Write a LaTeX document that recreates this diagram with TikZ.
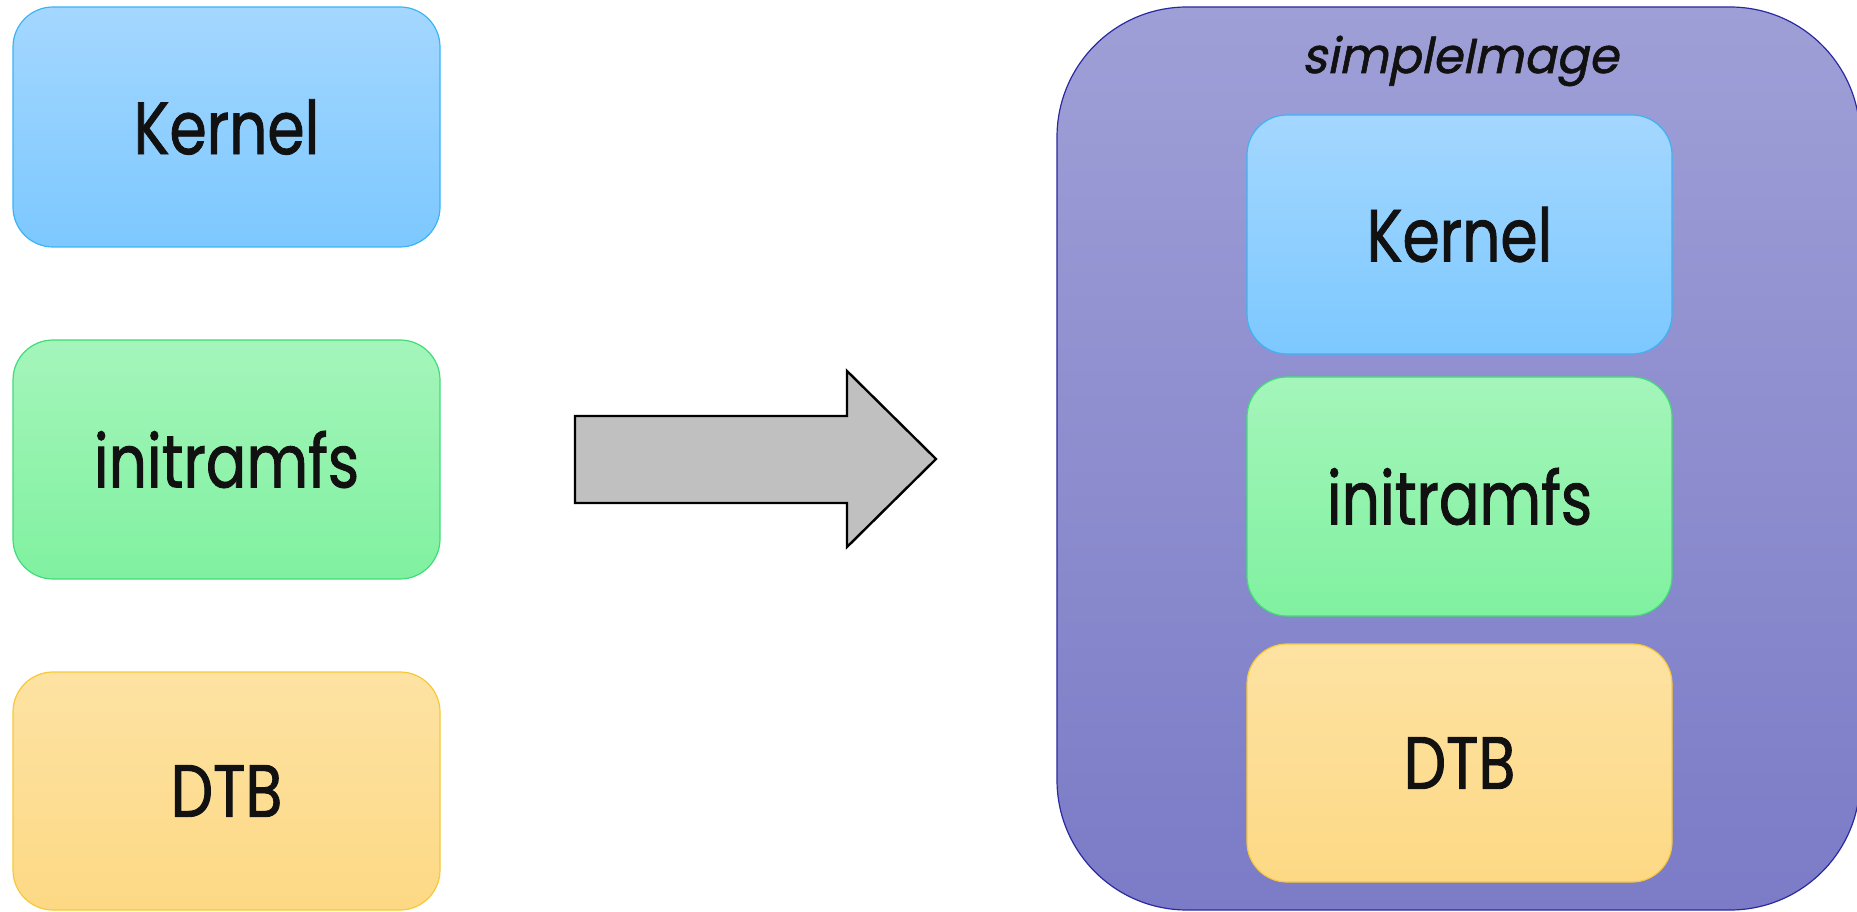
\documentclass[tikz,border=0pt]{standalone}
\usepackage{fontspec}
\setmainfont[FakeStretch=0.81,FakeBold=1.2]{Poppins}
\newfontfamily\slantfont[FakeSlant=0.2,FakeStretch=0.98,FakeBold=1.2]{Poppins}
\definecolor{kerTop}{HTML}{A4D7FF}
\definecolor{kerBot}{HTML}{7CC8FF}
\definecolor{kerLine}{HTML}{3AB4F5}
\definecolor{irTop}{HTML}{A4F5BA}
\definecolor{irBot}{HTML}{80F1A0}
\definecolor{irLine}{HTML}{40DC78}
\definecolor{dtTop}{HTML}{FDE2A2}
\definecolor{dtBot}{HTML}{FDD985}
\definecolor{dtLine}{HTML}{F7C838}
\definecolor{imTop}{HTML}{9F9FD7}
\definecolor{imBot}{HTML}{7B7BC7}
\definecolor{imLine}{HTML}{2A2AA0}
\definecolor{txt}{HTML}{111111}
\tikzset{
  part/.style={rounded corners=40pt, line width=1.2pt, inner sep=0pt,
    minimum width=427pt, minimum height=240pt, text=txt,
    font=\fontsize{74}{80}\selectfont},
  kernelbox/.style={part, draw=kerLine, top color=kerTop, bottom color=kerBot},
  initbox/.style={part, draw=irLine, top color=irTop, bottom color=irBot},
  dtbbox/.style={part, draw=dtLine, top color=dtTop, bottom color=dtBot},
  imagebox/.style={rounded corners=130pt, line width=1.2pt, draw=imLine,
    top color=imTop, bottom color=imBot, inner sep=0pt,
    minimum width=803pt, minimum height=903pt},
  bigarrow/.style={draw=black, fill={rgb,255:red,192;green,192;blue,192}, line width=2.4pt, line join=miter}
}
\begin{document}
\begin{tikzpicture}[x=1pt,y=1pt]
\useasboundingbox (0,0) rectangle (1857,911);
% left parts
\node[kernelbox] (k1) at (226.5,784) {Kernel};
\node[initbox, minimum height=239pt] (i1) at (226.5,451.5) {initramfs};
\node[dtbbox, minimum height=238pt] (d1) at (226.5,120) {DTB};
% arrow
\coordinate (a1) at (575,495);
\coordinate (a2) at (847,495);
\coordinate (a3) at (847,540);
\coordinate (a4) at (936,452);
\coordinate (a5) at (847,364);
\coordinate (a6) at (847,408);
\coordinate (a7) at (575,408);
\draw[bigarrow] (a1) -- (a2) -- (a3) -- (a4) -- (a5) -- (a6) -- (a7) -- cycle;
% image
\node[imagebox] (img) at (1458.5,452.5) {};
\node[anchor=base, text=txt, inner sep=0pt, font=\slantfont\fontsize{49}{54}\selectfont] (title) at (1460,838) {simpleImage};
\node[kernelbox, minimum width=425pt, minimum height=239pt] (k2) at (1459.5,676.5) {Kernel};
\node[initbox, minimum width=425pt, minimum height=239pt] (i2) at (1459.5,414.5) {initramfs};
\node[dtbbox, minimum width=425pt, minimum height=238pt] (d2) at (1459.5,148) {DTB};
\end{tikzpicture}
\end{document}
